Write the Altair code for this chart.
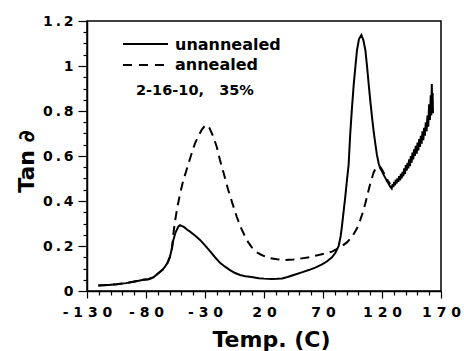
import altair as alt
import pandas as pd

# ---- data ----
temp_unannealed = [
    -120.4, -112, -104.8, -97, -90.7, -85, -82.3, -78, -74, -69.6, -66, -63.9, -61.5,
    -59.7, -58, -56.9, -55, -52.6, -51.2, -48, -45, -42.7, -38.5, -34.2, -30, -25.8,
    -21.5, -17.3, -13, -8.8, -4.5, -0.3, 4.2, 8.1, 15.5, 20, 26.8, 31, 35.3, 40, 46.5,
    52, 57.9, 63.5, 69.2, 73.5, 77.6, 80.5, 83.3, 85, 86.1, 87.5, 88.9, 90.3, 91.7,
    93.1, 94.5, 96, 97.5, 98.8, 100.5, 102.5, 104.2, 105.9, 107.3, 108.7, 110.1, 111.5,
    112.9, 114.3, 115.7, 117.2, 118.5, 119.7, 121.4, 122.6, 124, 125.4, 126.8, 128.2,
    129, 129.6, 130.3, 131, 131.7, 132.4, 133, 133.8, 134.5, 135.3, 136, 136.7, 137.4,
    138.1, 138.8, 139.5, 140.2, 140.9, 141.6, 142.3, 143, 143.7, 144.4, 145.1, 145.8,
    146.5, 147.2, 147.9, 148.6, 149.4, 150.1, 150.8, 151.5, 152.2, 152.9, 153.6, 154.3,
    155, 155.7, 156.4, 157.1, 157.8, 158.5, 159.2, 159.9, 160.6, 161.3, 161.8, 162.2,
    162.6, 162.9, 163.2,
]
tan_unannealed = [
    0.024, 0.027, 0.030, 0.035, 0.041, 0.047, 0.050, 0.052, 0.060, 0.079, 0.094, 0.108,
    0.128, 0.152, 0.19, 0.225, 0.26, 0.286, 0.293, 0.285, 0.272, 0.264, 0.247, 0.227,
    0.203, 0.177, 0.150, 0.125, 0.108, 0.093, 0.080, 0.071, 0.066, 0.063, 0.057, 0.055,
    0.053, 0.054, 0.056, 0.062, 0.073, 0.083, 0.093, 0.104, 0.118, 0.132, 0.150, 0.170,
    0.200, 0.245, 0.29, 0.355, 0.420, 0.493, 0.560, 0.70, 0.81, 0.915, 1.00, 1.07, 1.12,
    1.138, 1.115, 1.07, 1.00, 0.92, 0.845, 0.775, 0.71, 0.656, 0.605, 0.567, 0.545,
    0.535, 0.516, 0.505, 0.49, 0.479, 0.465, 0.456,
    0.475, 0.462, 0.485, 0.47, 0.495, 0.478, 0.50, 0.485, 0.51, 0.492, 0.52, 0.50, 0.53,
    0.51, 0.545, 0.52, 0.56, 0.535, 0.57, 0.545, 0.585, 0.555, 0.60, 0.57, 0.615, 0.585,
    0.63, 0.60, 0.645, 0.61, 0.66, 0.625, 0.675, 0.64, 0.69, 0.655, 0.71, 0.67, 0.725,
    0.69, 0.75, 0.71, 0.78, 0.73, 0.83, 0.76, 0.87, 0.78, 0.92, 0.80, 0.88, 0.79,
]
temp_annealed = [
    -120.4, -112, -104.8, -97, -90.7, -85, -82.3, -78, -74, -69.6, -66, -63.9, -61.5,
    -59.7, -58, -56.9, -55.4, -53.5, -51.2, -48.5, -45.5, -42, -38.5, -35.5, -32.8,
    -30.5, -28.6, -26.5, -25, -23, -20, -17.3, -14, -10.3, -6.5, -3.1, 1, 5.3, 9.5,
    13.8, 18, 24, 31, 38, 45, 52.2, 59, 66.4, 72, 77.6, 82, 86.1, 90.5, 94.6, 98.5,
    101.6, 103.8, 105.9, 108, 110.1, 113, 115, 117.2, 119, 121, 123, 125, 127,
]
tan_annealed = [
    0.024, 0.027, 0.030, 0.035, 0.041, 0.047, 0.050, 0.052, 0.060, 0.079, 0.094, 0.108,
    0.128, 0.152, 0.19, 0.25, 0.31, 0.37, 0.43, 0.49, 0.54, 0.60, 0.656, 0.69, 0.716,
    0.732, 0.738, 0.727, 0.71, 0.686, 0.64, 0.582, 0.52, 0.449, 0.385, 0.33, 0.275,
    0.227, 0.195, 0.172, 0.16, 0.147, 0.141, 0.138, 0.140, 0.145, 0.151, 0.160, 0.167,
    0.175, 0.187, 0.200, 0.217, 0.241, 0.275, 0.316, 0.35, 0.39, 0.435, 0.479, 0.528,
    0.548, 0.555, 0.548, 0.53, 0.51, 0.49, 0.475,
]
series_names = ["unannealed", "annealed"]
note_text = "2-16-10,\u00a0\u00a0\u00a035%"
x_title = "Temp. (C)"
y_title = "Tan \u2202"
x_tick_values = list(range(-130, 171, 10))
y_tick_values = [round(i * 0.05, 2) for i in range(25)]

FONT = "DejaVu Sans"

df_u = pd.DataFrame({"temp": temp_unannealed, "tan": tan_unannealed,
                     "i": range(len(temp_unannealed))})
df_a = pd.DataFrame({"temp": temp_annealed, "tan": tan_annealed,
                     "i": range(len(temp_annealed))})

x_major = "(datum.value + 130) % 50 == 0"
y_major = "abs(datum.value * 5 - round(datum.value * 5)) < 0.001"

x_axis = alt.Axis(
    values=x_tick_values, title=x_title, grid=False,
    labelExpr=f"{x_major} ? join(split((datum.value < 0 ? '-' : '') + toString(abs(datum.value)), ''), '\u00a0') : ''",
    tickSize={"condition": {"test": x_major, "value": 7}, "value": 4},
    labelPadding=7, labelOverlap=False, labelFlush=False,
    titleX=184, titleY=55, titleAlign="center", titleBaseline="alphabetic",
)
y_axis = alt.Axis(
    values=y_tick_values, title=y_title, grid=False,
    labelExpr=f"{y_major} ? join(split(format(datum.value, '~g'), ''), '\u2009') : ''",
    tickSize={"condition": {"test": y_major, "value": 9}, "value": 4},
    labelPadding=5, labelOverlap=False, labelFlush=False,
    titleX=-54, titleY=140, titleAngle=270, titleAlign="center", titleBaseline="alphabetic",
)

x_enc = alt.X("temp:Q", scale=alt.Scale(domain=[-130, 170], nice=False, zero=False), axis=x_axis)
y_enc = alt.Y("tan:Q", scale=alt.Scale(domain=[0, 1.2], nice=False), axis=y_axis)

annealed = alt.Chart(df_a).mark_line(color="black", strokeWidth=2, strokeDash=[9, 6]).encode(
    x=x_enc, y=y_enc, order="i:Q")
unannealed = alt.Chart(df_u).mark_line(color="black", strokeWidth=2).encode(
    x=x_enc, y=y_enc, order="i:Q")

one = pd.DataFrame({"k": [0]})
leg_solid = alt.Chart(one).mark_rule(color="black", strokeWidth=2).encode(
    x=alt.value(36), x2=alt.value(81), y=alt.value(23))
leg_dash = alt.Chart(one).mark_rule(color="black", strokeWidth=2, strokeDash=[9, 7]).encode(
    x=alt.value(36), x2=alt.value(81), y=alt.value(44))
text_style = dict(align="left", baseline="middle", font=FONT, fontWeight="bold", color="black")
leg_text1 = alt.Chart(pd.DataFrame({"label": [series_names[0]]})).mark_text(
    fontSize=16, **text_style).encode(x=alt.value(88), y=alt.value(24), text="label:N")
leg_text2 = alt.Chart(pd.DataFrame({"label": [series_names[1]]})).mark_text(
    fontSize=16, **text_style).encode(x=alt.value(88), y=alt.value(44), text="label:N")
note = alt.Chart(pd.DataFrame({"label": [note_text]})).mark_text(
    fontSize=14.5, **text_style).encode(x=alt.value(49), y=alt.value(70), text="label:N")

chart = alt.layer(annealed, unannealed, leg_solid, leg_dash, leg_text1, leg_text2, note).properties(
    width=354, height=270,
    autosize=alt.AutoSizeParams(type="none"),
    padding={"left": 87, "top": 21, "right": 23, "bottom": 60},
    background="white",
).configure_view(
    stroke="black", strokeWidth=1.5
).configure_axis(
    domainColor="black", domainWidth=1.5, tickColor="black", tickWidth=1.2,
    labelFont=FONT, labelFontWeight="bold", labelFontSize=14, labelColor="black",
    titleFont=FONT, titleFontWeight="bold", titleFontSize=22, titleColor="black",
)

chart.save("out.html", embed_options={"renderer": "svg", "actions": False})
